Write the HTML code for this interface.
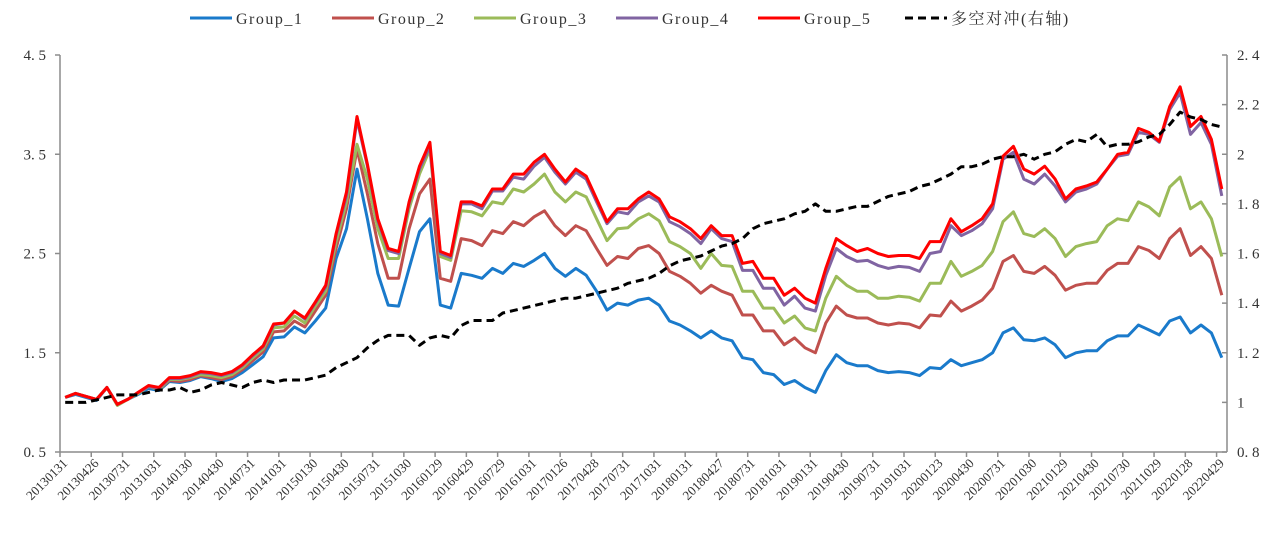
<!DOCTYPE html>
<html><head><meta charset="utf-8"><style>
body{margin:0;background:#fff;width:1281px;height:528px;overflow:hidden}
svg text{font-family:"Liberation Serif","Noto Serif CJK SC",serif;fill:#333}
</style></head><body>
<svg id="chart" width="1281" height="528" viewBox="0 0 1281 528" xmlns="http://www.w3.org/2000/svg">
<g id="legend"></g>
<g id="axes"></g>
<g id="series"></g>
</svg>
<script>
const tickLabels=["20130131","20130426","20130731","20131031","20140130","20140430","20140731","20141031","20150130","20150430","20150731","20151030","20160129","20160429","20160729","20161031","20170126","20170428","20170731","20171031","20180131","20180427","20180731","20181031","20190131","20190430","20190731","20191031","20200123","20200430","20200731","20201030","20210129","20210430","20210730","20211029","20220128","20220429"];
const leftTicks=[0.5,1.5,2.5,3.5,4.5];
const rightTicks=[0.8,1,1.2,1.4,1.6,1.8,2,2.2,2.4];
const seriesNames=["Group_1","Group_2","Group_3","Group_4","Group_5","多空对冲(右轴)"];
const g1=[1.05,1.08,1.05,1.02,1.15,0.98,1.03,1.08,1.14,1.12,1.21,1.20,1.22,1.26,1.24,1.21,1.24,1.30,1.38,1.46,1.65,1.66,1.76,1.70,1.82,1.95,2.45,2.75,
3.35,2.85,2.30,1.98,1.97,2.35,2.72,2.85,1.98,1.95,2.30,2.28,2.25,2.35,2.30,2.40,2.37,2.43,2.50,2.35,2.27,2.35,2.28,2.12,1.93,2.0,1.98,2.03,2.05,1.98,1.82,1.78,1.72,1.65,1.72,1.65,1.62,1.45,1.43,1.30,1.28,1.18,1.22,1.15,1.10,
1.32,1.48,1.40,1.37,1.37,1.32,1.30,1.31,1.30,1.27,1.35,1.34,1.43,1.37,1.40,1.43,1.50,1.70,1.75,1.63,1.62,1.65,1.58,1.45,1.50,1.52,1.52,1.62,1.67,1.67,1.78,1.73,1.68,1.82,1.86,1.70,1.78,1.70,1.45];
const g2=[1.05,1.09,1.06,1.03,1.15,0.98,1.03,1.09,1.16,1.13,1.22,1.21,1.23,1.27,1.25,1.23,1.26,1.33,1.42,1.51,1.71,1.72,1.82,1.76,1.92,2.08,2.55,2.95,
3.55,3.10,2.60,2.25,2.25,2.75,3.10,3.25,2.25,2.22,2.65,2.63,2.58,2.73,2.70,2.82,2.78,2.87,2.93,2.78,2.68,2.78,2.73,2.55,2.38,2.47,2.45,2.55,2.58,2.50,2.32,2.27,2.20,2.10,2.18,2.12,2.08,1.88,1.88,1.72,1.72,1.58,1.65,1.55,1.50,
1.80,1.97,1.88,1.85,1.85,1.80,1.78,1.80,1.79,1.75,1.88,1.87,2.02,1.92,1.97,2.03,2.15,2.42,2.48,2.32,2.30,2.37,2.28,2.13,2.18,2.20,2.20,2.33,2.40,2.40,2.57,2.53,2.45,2.65,2.75,2.48,2.57,2.45,2.08];
const g3=[1.05,1.09,1.06,1.03,1.15,0.97,1.03,1.09,1.16,1.13,1.23,1.23,1.25,1.28,1.27,1.25,1.28,1.35,1.45,1.54,1.75,1.76,1.87,1.80,1.97,2.12,2.62,3.02,
3.60,3.25,2.75,2.45,2.45,2.95,3.30,3.55,2.47,2.43,2.93,2.92,2.88,3.02,3.00,3.15,3.12,3.20,3.30,3.12,3.02,3.12,3.07,2.85,2.63,2.75,2.76,2.85,2.90,2.83,2.62,2.57,2.50,2.35,2.50,2.38,2.37,2.12,2.12,1.95,1.95,1.80,1.87,1.75,1.72,
2.05,2.27,2.18,2.12,2.12,2.05,2.05,2.07,2.06,2.02,2.20,2.20,2.42,2.27,2.32,2.38,2.52,2.82,2.92,2.70,2.67,2.75,2.65,2.47,2.57,2.60,2.62,2.78,2.85,2.83,3.02,2.97,2.88,3.17,3.27,2.95,3.02,2.85,2.47];
const g4=[1.05,1.09,1.06,1.03,1.15,0.98,1.03,1.10,1.16,1.14,1.24,1.24,1.26,1.30,1.29,1.27,1.30,1.37,1.47,1.56,1.78,1.80,1.92,1.84,2.00,2.16,2.68,3.08,
3.85,3.38,2.83,2.53,2.50,3.00,3.35,3.58,2.50,2.46,3.00,3.00,2.95,3.13,3.13,3.27,3.25,3.38,3.47,3.32,3.20,3.32,3.25,3.02,2.80,2.92,2.90,3.02,3.08,3.02,2.82,2.77,2.70,2.60,2.75,2.65,2.62,2.33,2.33,2.15,2.15,1.98,2.07,1.95,1.92,
2.28,2.55,2.47,2.42,2.43,2.38,2.35,2.37,2.36,2.32,2.50,2.52,2.78,2.68,2.73,2.80,2.95,3.45,3.52,3.25,3.20,3.30,3.18,3.02,3.12,3.15,3.20,3.35,3.48,3.50,3.72,3.70,3.62,3.95,4.12,3.70,3.82,3.60,3.08];
const g5=[1.05,1.09,1.06,1.03,1.15,0.98,1.03,1.10,1.17,1.15,1.25,1.25,1.27,1.31,1.30,1.28,1.31,1.38,1.48,1.57,1.79,1.80,1.92,1.85,2.01,2.18,2.70,3.12,
3.88,3.40,2.85,2.55,2.52,3.02,3.38,3.62,2.52,2.48,3.02,3.02,2.98,3.15,3.15,3.30,3.30,3.42,3.50,3.35,3.22,3.35,3.28,3.05,2.82,2.95,2.95,3.05,3.12,3.05,2.87,2.82,2.75,2.65,2.78,2.68,2.68,2.40,2.42,2.25,2.25,2.08,2.15,2.05,2.00,
2.35,2.65,2.58,2.52,2.55,2.50,2.47,2.48,2.48,2.45,2.62,2.62,2.85,2.72,2.78,2.85,3.00,3.48,3.58,3.35,3.30,3.38,3.25,3.05,3.15,3.18,3.22,3.35,3.50,3.52,3.76,3.72,3.63,3.98,4.18,3.78,3.88,3.65,3.15];
const hedge=[1.0,1.0,1.0,1.01,1.02,1.03,1.03,1.03,1.04,1.05,1.05,1.06,1.04,1.05,1.07,1.08,1.07,1.06,1.08,1.09,1.08,1.09,1.09,1.09,1.10,1.11,1.14,1.16,
1.18,1.22,1.25,1.27,1.27,1.27,1.23,1.26,1.27,1.26,1.31,1.33,1.33,1.33,1.36,1.37,1.38,1.39,1.40,1.41,1.42,1.42,1.43,1.44,1.45,1.46,1.48,1.49,1.50,1.52,1.55,1.57,1.58,1.59,1.61,1.63,1.64,1.66,1.70,1.72,1.73,1.74,1.76,1.77,1.80,
1.77,1.77,1.78,1.79,1.79,1.81,1.83,1.84,1.85,1.87,1.88,1.90,1.92,1.95,1.95,1.96,1.98,1.99,1.99,2.00,1.98,2.00,2.01,2.04,2.06,2.05,2.08,2.03,2.04,2.04,2.05,2.07,2.08,2.12,2.17,2.15,2.14,2.12,2.11];

const NS="http://www.w3.org/2000/svg";
const X0=60,X1=1227,YT=55,YB=452,N=g5.length;
const bw=(X1-X0)/N;
const xAt=i=>X0+bw*(i+0.5);
const yL=v=>YB-(v-0.5)/(4.5-0.5)*(YB-YT);
const yR=v=>YB-(v-0.8)/(2.4-0.8)*(YB-YT);
function mk(tag,attrs,parent){const e=document.createElementNS(NS,tag);for(const k in attrs)e.setAttribute(k,attrs[k]);parent.appendChild(e);return e;}
const axes=document.getElementById('axes'),ser=document.getElementById('series'),leg=document.getElementById('legend');
let e;
e=mk('line',{x1:X0,y1:YT,x2:X0,y2:YB,stroke:'#8c8c8c','stroke-width':1.5},axes);


e=mk('line',{x1:X1,y1:YT,x2:X1,y2:YB,stroke:'#8c8c8c','stroke-width':1.5},axes);


e=mk('line',{x1:X0,y1:YB,x2:X1,y2:YB,stroke:'#8c8c8c','stroke-width':1.5},axes);


leftTicks.forEach(v=>{const y=yL(v);
 mk('line',{x1:X0-5,y1:y,x2:X0,y2:y,stroke:'#8c8c8c','stroke-width':1.5},axes);
 e=mk('text',{x:X0-14,y:y+5,'text-anchor':'end','font-size':15},axes);e.textContent=v.toFixed(1).replace('.','. ');
 
 });
rightTicks.forEach(v=>{const y=yR(v);
 mk('line',{x1:X1,y1:y,x2:X1-5,y2:y,stroke:'#8c8c8c','stroke-width':1.5},axes);
 e=mk('text',{x:X1+10,y:y+5,'text-anchor':'start','font-size':15},axes);e.textContent=(v===1||v===2)?String(v):v.toFixed(1).replace('.','. ');
 
 });
for(let k=0;k<=N;k+=3){const x=X0+bw*k;mk('line',{x1:x,y1:YB,x2:x,y2:YB+5,stroke:'#8c8c8c','stroke-width':1.5},axes);}
tickLabels.forEach((t,j)=>{const x=xAt(j*3)+3,y=YB+12;
 e=mk('text',{x:x,y:y,'text-anchor':'end','font-size':13,transform:`rotate(-45 ${x} ${y})`},axes);e.textContent=t;
 
 });
const colors=['#1a7acb','#c0504d','#9bbb59','#8064a2','#ff0000','#000'];
const data=[g1,g2,g3,g4,g5,hedge];
data.forEach((arr,s)=>{const f=s===5?yR:yL;
 const d=arr.map((v,i)=>(i?'L':'M')+xAt(i).toFixed(1)+' '+f(v).toFixed(1)).join('');
 e=mk('path',{d:d,fill:'none',stroke:colors[s],'stroke-width':3,'stroke-linejoin':'round','stroke-dasharray':s===5?'8 5':'none'},ser);
 
 });
const legX=[190,332,474,616,758,905];
seriesNames.forEach((n,s)=>{const gx=legX[s];
 mk('line',{x1:gx,y1:18,x2:gx+42,y2:18,stroke:colors[s],'stroke-width':3,'stroke-dasharray':s===5?'8 5':'none'},leg);
 e=mk('text',{x:gx+46,y:24,'font-size':16,'letter-spacing':1.5},leg);e.textContent=n;
 
 });
</script>
</body></html>
